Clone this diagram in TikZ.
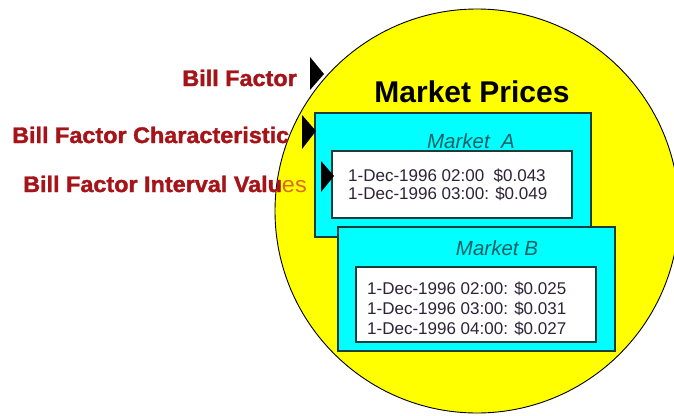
\documentclass[tikz,border=0pt]{standalone}
\usepackage{fontspec}
\setmainfont{Liberation Sans}
\newfontfamily\heavyfont[FakeBold=1.6]{Liberation Sans Bold}
\usetikzlibrary{calc}
\usetikzlibrary{positioning}

\definecolor{labelred}{RGB}{165,20,25}
\definecolor{labelorange}{RGB}{215,110,30}
\definecolor{mkyellow}{RGB}{255,255,0}
\definecolor{mkcyan}{RGB}{0,255,255}
\definecolor{mkteal}{RGB}{20,95,100}
\definecolor{boxedge}{RGB}{25,60,60}
\definecolor{datagray}{RGB}{45,35,55}

\tikzset{
    marketbox/.style={draw=boxedge, line width=1.3pt, fill=mkcyan},
    valuebox/.style={draw=boxedge, line width=1.2pt, fill=white},
    factorlabel/.style={font=\fontsize{22.5}{26}\selectfont\heavyfont, text=labelred, inner sep=0pt, xscale=1.04, transform shape},
    markettitle/.style={font=\fontsize{20.5}{24}\selectfont\itshape, text=mkteal, inner sep=0pt},
    datatext/.style={font=\fontsize{17}{20}\selectfont, text=datagray, inner sep=0pt},
    pointer/.style={fill=black}
}

\begin{document}
\begin{tikzpicture}[x=1pt, y=-1pt]
    \useasboundingbox (0,0) rectangle (674,415);

    % Constants
    \pgfmathsetmacro{\xzero}{477}
    \pgfmathsetmacro{\yzero}{211}
    \pgfmathsetmacro{\R}{202}

    % Market prices circle
    \coordinate (O) at (\xzero, \yzero);
    \draw [fill=mkyellow, line width=0.9pt] (O) circle [radius=\R pt];

    \node [font=\fontsize{30}{36}\selectfont\bfseries, inner sep=0pt, anchor=base] (prices) at (472,102) {Market Prices};

    % Market A
    \draw [marketbox] (315,113) rectangle (591,237);
    \node [markettitle, anchor=base] (mktA) at (471,148) {Market\ \ A};
    \draw [valuebox] (332,151) rectangle (572,218);
    \node [datatext, anchor=base west] (valA1) at (348,181) {1-Dec-1996 02:00\ \ \$0.043};
    \node [datatext, anchor=base west] (valA2) at (348,199) {1-Dec-1996 03:00: \$0.049};

    % Market B
    \draw [marketbox] (338,227) rectangle (615,351);
    \node [markettitle, anchor=base] (mktB) at (497,255) {Market B};
    \draw [valuebox] (356,267) rectangle (596,342);
    \node [datatext, anchor=base west] (valB1) at (367,294) {1-Dec-1996 02:00: \$0.025};
    \node [datatext, anchor=base west] (valB2) at (367,314) {1-Dec-1996 03:00: \$0.031};
    \node [datatext, anchor=base west] (valB3) at (367,334) {1-Dec-1996 04:00: \$0.027};

    % Pointers
    \fill [pointer] (310,57) -- (324,74) -- (310,90) -- cycle;
    \fill [pointer] (302,115) -- (316,131) -- (302,149) -- cycle;
    \fill [pointer] (321,161) -- (334,176) -- (321,192) -- cycle;

    % Bill factor labels
    \node [factorlabel, anchor=base east] (factor) at (297,86) {Bill Factor};
    \node [factorlabel, anchor=base west] (charact) at (12,143) {Bill Factor Characteristic};
    \node [factorlabel, anchor=base west] (interval) at (23,192) {Bill Factor Interval Valu{\color{labelorange}\fontsize{22.5}{26}\selectfont\mdseries\normalfont es}};

\end{tikzpicture}
\end{document}
